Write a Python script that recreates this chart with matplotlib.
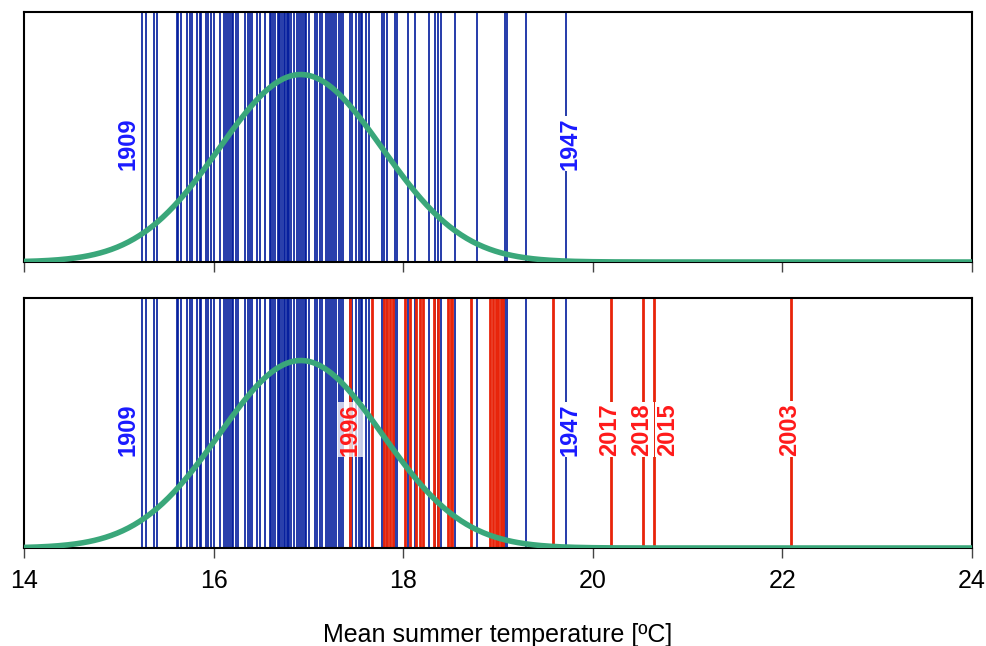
import numpy as np
import matplotlib
matplotlib.use("Agg")
import matplotlib.pyplot as plt

plt.rcParams['font.family'] = ['Liberation Sans', 'DejaVu Sans']

# mean summer temperatures, older years (blue) and recent years (red)
blue_temps = [15.24, 15.29, 15.37, 15.40, 15.61, 15.63, 15.66, 15.72, 15.75, 15.77,
              15.82, 15.86, 15.87, 15.92, 15.94, 15.97, 16.00, 16.07, 16.11, 16.13,
              16.15, 16.17, 16.19, 16.21, 16.24, 16.26, 16.33, 16.36, 16.38, 16.41,
              16.46, 16.49, 16.54, 16.59, 16.61, 16.63, 16.65, 16.68, 16.69, 16.70,
              16.72, 16.74, 16.75, 16.77, 16.79, 16.80, 16.82, 16.85, 16.88, 16.90,
              16.92, 16.94, 16.96, 16.98, 17.01, 17.07, 17.09, 17.12, 17.14, 17.19,
              17.21, 17.23, 17.25, 17.27, 17.29, 17.32, 17.34, 17.37, 17.44, 17.46,
              17.50, 17.53, 17.55, 17.57, 17.61, 17.64, 17.78, 17.80, 17.83, 17.91,
              17.93, 18.05, 18.12, 18.27, 18.34, 18.37, 18.40, 18.55, 18.78, 19.07,
              19.10, 19.30, 19.72]
red_temps = [17.44, 17.67, 17.80, 17.83, 17.86, 17.89, 18.02, 18.07, 18.14, 18.18,
             18.21, 18.33, 18.37, 18.47, 18.50, 18.52, 18.72, 18.92, 18.95, 18.98,
             19.00, 19.03, 19.05, 19.58, 20.19, 20.53, 20.65, 22.09]

# fitted normal distribution of the older years
fit_mean = 16.92
fit_sd = 0.86
curve_peak = 0.75

# year labels: (year, label x position, colour)
top_labels = [("1909", 15.10, "#1a1aff"), ("1947", 19.76, "#1a1aff")]
bottom_labels = [("1909", 15.10, "#1a1aff"), ("1996", 17.44, "#ff1a1a"),
                 ("1947", 19.76, "#1a1aff"), ("2017", 20.18, "#ff1a1a"),
                 ("2018", 20.51, "#ff1a1a"), ("2015", 20.79, "#ff1a1a"),
                 ("2003", 22.08, "#ff1a1a")]

xs = np.linspace(14, 24, 500)
curve = curve_peak * np.exp(-0.5 * ((xs - fit_mean) / fit_sd) ** 2)

fig = plt.figure(figsize=(9.86, 6.46), dpi=100)
ax1 = fig.add_axes([0.0243, 0.5944, 0.9615, 0.387])
ax2 = fig.add_axes([0.0243, 0.1517, 0.9615, 0.387])

blue = "#001a9c"
red = "#e8240a"
green = "#3aa77a"

for ax, labels, show_red in [(ax1, top_labels, False), (ax2, bottom_labels, True)]:
    for t in blue_temps:
        ax.axvline(t, color=blue, lw=1.2, zorder=1)
    if show_red:
        for t in red_temps:
            ax.axvline(t, color=red, lw=2.0, zorder=2)
    ax.plot(xs, curve, color=green, lw=4, zorder=4)
    for txt, x, c in labels:
        alpha = 0.75 if txt == "1996" else 1.0
        ax.text(x, 0.475, txt, rotation=90, ha='center', va='center', color=c,
                fontsize=17, fontweight='bold', zorder=3,
                bbox=dict(facecolor='white', edgecolor='none', pad=1.0, alpha=alpha))
    ax.set_xlim(14, 24)
    ax.set_ylim(0, 1)
    ax.set_yticks([])
    ax.set_xticks([14, 16, 18, 20, 22, 24])
    ax.tick_params(axis='x', direction='out', length=7, width=1, color='#444444')
    for s in ax.spines.values():
        s.set_linewidth(1.5)
        s.set_color('black')

ax1.set_xticklabels([])
ax2.tick_params(axis='x', labelsize=18, pad=8)
ax2.set_xlabel("Mean summer temperature [ºC]", fontsize=18, labelpad=22)

fig.savefig("out.png", dpi=100)
